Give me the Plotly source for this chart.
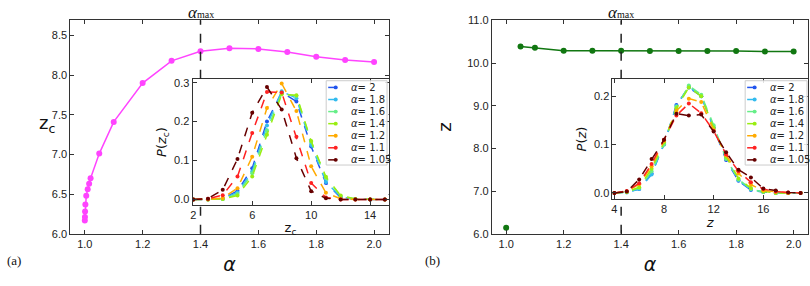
import plotly.graph_objects as go

# ---------------- data ----------------
alpha_a = [1.0001, 1.0005, 1.001, 1.002, 1.005, 1.01, 1.015, 1.02, 1.05, 1.1, 1.2, 1.3, 1.4, 1.5, 1.6, 1.7, 1.8, 1.9, 2.0]
zc_a = [6.166, 6.21, 6.28, 6.37, 6.48, 6.56, 6.63, 6.70, 7.01, 7.41, 7.90, 8.18, 8.30, 8.34, 8.33, 8.29, 8.23, 8.19, 8.165]

alpha_b = [1.0, 1.05, 1.1, 1.2, 1.3, 1.4, 1.5, 1.6, 1.7, 1.8, 1.9, 2.0]
z_b = [6.14, 10.39, 10.36, 10.29, 10.29, 10.29, 10.28, 10.28, 10.28, 10.28, 10.27, 10.27]

alpha_max = 1.4

series_labels = ["2", "1.8", "1.6", "1.4", "1.2", "1.1", "1.05"]
series_colors = ["#2255ee", "#33bbee", "#66ee88", "#99ee11", "#ffaa00", "#ff2222", "#660000"]

zc_grid = [2, 3, 4, 5, 6, 7, 8, 9, 10, 11, 12, 13, 14, 15]
P_zc = [
    [0, 0, 0.002, 0.022, 0.080, 0.200, 0.275, 0.252, 0.136, 0.042, 0.005, 0.001, 0, 0],
    [0, 0, 0.002, 0.018, 0.072, 0.190, 0.278, 0.260, 0.140, 0.045, 0.006, 0.001, 0, 0],
    [0, 0, 0.001, 0.014, 0.067, 0.178, 0.272, 0.266, 0.148, 0.055, 0.009, 0.001, 0, 0],
    [0, 0, 0.001, 0.010, 0.059, 0.166, 0.270, 0.268, 0.150, 0.058, 0.010, 0.001, 0, 0],
    [0, 0, 0.004, 0.029, 0.110, 0.235, 0.298, 0.227, 0.085, 0.017, 0.002, 0, 0, 0],
    [0, 0.002, 0.011, 0.059, 0.171, 0.276, 0.275, 0.161, 0.042, 0.005, 0, 0, 0, 0],
    [0, 0.002, 0.025, 0.104, 0.223, 0.289, 0.231, 0.106, 0.021, 0.003, 0, 0, 0, 0],
]

z_grid = [4, 5, 6, 7, 8, 9, 10, 11, 12, 13, 14, 15, 16, 17, 18, 19]
P_z = [
    [0, 0.002, 0.008, 0.040, 0.100, 0.182, 0.218, 0.200, 0.135, 0.068, 0.025, 0.006, 0.002, 0, 0, 0],
    [0, 0.001, 0.008, 0.038, 0.102, 0.180, 0.220, 0.200, 0.135, 0.072, 0.026, 0.007, 0.002, 0, 0, 0],
    [0, 0.002, 0.010, 0.045, 0.100, 0.178, 0.222, 0.203, 0.140, 0.070, 0.028, 0.008, 0.002, 0, 0, 0],
    [0, 0.002, 0.012, 0.050, 0.105, 0.175, 0.218, 0.200, 0.135, 0.075, 0.030, 0.010, 0.003, 0, 0, 0],
    [0, 0.003, 0.018, 0.055, 0.108, 0.170, 0.195, 0.188, 0.130, 0.078, 0.040, 0.017, 0.005, 0.002, 0, 0],
    [0, 0.004, 0.020, 0.060, 0.110, 0.160, 0.185, 0.165, 0.128, 0.080, 0.045, 0.022, 0.008, 0.003, 0.001, 0],
    [0, 0.003, 0.028, 0.070, 0.110, 0.164, 0.160, 0.162, 0.127, 0.084, 0.048, 0.032, 0.009, 0.005, 0.001, 0],
]

# ---------------- layout helpers ----------------
W, H = 810, 286
def px(x):
    return x / W
def py(y):
    return 1 - y / H

dom_a = dict(x=[px(68.5), px(387.5)], y=[py(237.7), py(15)])
dom_ai = dict(x=[px(191), px(387.5)], y=[py(208), py(76)])
dom_b = dict(x=[px(491), px(808)], y=[py(237.7), py(15)])
dom_bi = dict(x=[px(612), px(808)], y=[py(201.7), py(76)])

AX = "#333333"
TICKFONT = dict(family="Liberation Sans, Arial, sans-serif", size=11, color="#222222")

def axis(**kw):
    d = dict(showline=True, linecolor=AX, linewidth=1, mirror="ticks", ticks="inside",
             ticklen=4, tickcolor=AX, tickwidth=1, showgrid=False, zeroline=False,
             tickfont=TICKFONT)
    d.update(kw)
    return d

fig = go.Figure()

# main (a)
fig.add_trace(go.Scatter(x=alpha_a, y=zc_a, mode="lines+markers", xaxis="x", yaxis="y",
                         line=dict(color="#ff44ff", width=1.5),
                         marker=dict(color="#ff44ff", size=6, symbol="circle"), showlegend=False))
# main (b)
fig.add_trace(go.Scatter(x=alpha_b[:1], y=z_b[:1], mode="markers", xaxis="x3", yaxis="y3",
                         marker=dict(color="#117711", size=6), showlegend=False))
fig.add_trace(go.Scatter(x=alpha_b[1:], y=z_b[1:], mode="lines+markers", xaxis="x3", yaxis="y3",
                         line=dict(color="#117711", width=1.5),
                         marker=dict(color="#117711", size=6), showlegend=False))

# insets
for lab, col, pa, pb in zip(series_labels, series_colors, P_zc, P_z):
    fig.add_trace(go.Scatter(x=zc_grid, y=pa, mode="lines+markers", xaxis="x2", yaxis="y2",
                             line=dict(color=col, width=1.5, dash="dash"),
                             marker=dict(color=col, size=4), showlegend=False))
    fig.add_trace(go.Scatter(x=z_grid, y=pb, mode="lines+markers", xaxis="x4", yaxis="y4",
                             line=dict(color=col, width=1.5, dash="dash"),
                             marker=dict(color=col, size=4), showlegend=False))

fig.update_layout(
    width=W, height=H, margin=dict(l=0, r=0, t=0, b=0),
    paper_bgcolor="white", plot_bgcolor="white", showlegend=False,
    xaxis=axis(domain=dom_a["x"], anchor="y", range=[0.95, 2.05], tickvals=[1.0, 1.2, 1.4, 1.6, 1.8, 2.0],
               tickformat=".1f",
               title=dict(text="<i>α</i>", font=dict(family="DejaVu Sans", size=19, color="#111"), standoff=8)),
    yaxis=axis(domain=dom_a["y"], anchor="x", range=[6.0, 8.69], tickvals=[6.0, 6.5, 7.0, 7.5, 8.0, 8.5],
               tickformat=".1f"),
    xaxis2=axis(domain=dom_ai["x"], anchor="y2", range=[1.95, 15.25], tickvals=[2, 6, 10, 14],
                title=dict(text="z<sub>c</sub>", font=dict(family="DejaVu Sans", size=13, color="#111"), standoff=2)),
    yaxis2=axis(domain=dom_ai["y"], anchor="x2", range=[-0.015, 0.31], tickvals=[0, 0.1, 0.2, 0.3],
                tickformat=".1f",
                title=dict(text="<i>P</i>(<i>z</i><sub>c</sub>)", font=dict(family="DejaVu Sans", size=13, color="#111"), standoff=4)),
    xaxis3=axis(domain=dom_b["x"], anchor="y3", range=[0.95, 2.05], tickvals=[1.0, 1.2, 1.4, 1.6, 1.8, 2.0],
                tickformat=".1f",
                title=dict(text="<i>α</i>", font=dict(family="DejaVu Sans", size=19, color="#111"), standoff=8)),
    yaxis3=axis(domain=dom_b["y"], anchor="x3", range=[6.0, 11.0], tickvals=[6, 7, 8, 9, 10, 11],
                tickformat=".1f",
                title=dict(text="z", font=dict(family="DejaVu Sans", size=18, color="#111"), standoff=10)),
    xaxis4=axis(domain=dom_bi["x"], anchor="y4", range=[3.85, 19.6], tickvals=[4, 8, 12, 16],
                title=dict(text="<i>z</i>", font=dict(family="DejaVu Sans", size=13, color="#111"), standoff=2)),
    yaxis4=axis(domain=dom_bi["y"], anchor="x4", range=[-0.013, 0.236], tickvals=[0, 0.1, 0.2],
                tickformat=".1f",
                title=dict(text="<i>P</i>(<i>z</i>)", font=dict(family="DejaVu Sans", size=13, color="#111"), standoff=4)),
)

shapes = []
annotations = []

# alpha_max dashed lines, hidden behind inset plot areas
for xr, dm, di in [("x", dom_a, dom_ai), ("x3", dom_b, dom_bi)]:
    for y0, y1 in [(dm["y"][0], di["y"][0]), (di["y"][1], dm["y"][1])]:
        shapes.append(dict(type="line", xref=xr, yref="paper", x0=alpha_max, x1=alpha_max, y0=y0, y1=y1,
                           line=dict(color="#222222", width=1.5, dash="dash"), layer="above"))
    annotations.append(dict(xref=xr, yref="paper", x=alpha_max, y=py(7), xanchor="center",
                            yanchor="middle", showarrow=False,
                            text="<i>α</i><span style='font-size:10px'>max</span>",
                            font=dict(family="Liberation Serif, serif", size=17, color="#111")))

# upright y title for panel (a)
annotations.append(dict(xref="paper", yref="paper", x=px(35), y=py(123), showarrow=False,
                        text="z<sub>c</sub>", font=dict(family="DejaVu Sans", size=18, color="#111")))

# panel labels
annotations.append(dict(xref="paper", yref="paper", x=px(3), y=py(276), xanchor="left", showarrow=False,
                        text="(a)", font=dict(family="Liberation Serif, serif", size=13, color="#111")))
annotations.append(dict(xref="paper", yref="paper", x=px(422), y=py(276), xanchor="left", showarrow=False,
                        text="(b)", font=dict(family="Liberation Serif, serif", size=13, color="#111")))

# manual legends inside insets
for bx0, bx1 in [(325, 386), (745, 807)]:
    top, bot = 78, 166
    shapes.append(dict(type="rect", xref="paper", yref="paper", x0=px(bx0), x1=px(bx1), y0=py(bot), y1=py(top),
                       fillcolor="rgba(255,255,255,0.85)", line=dict(color="#cccccc", width=1), layer="above"))
    for i, (lab, col) in enumerate(zip(series_labels, series_colors)):
        yy = 85 + i * 12.6
        lx0, lx1 = bx0 + 2, bx0 + 17
        shapes.append(dict(type="line", xref="paper", yref="paper", x0=px(lx0), x1=px(lx1), y0=py(yy), y1=py(yy),
                           line=dict(color=col, width=1.5, dash="dash"), layer="above"))
        mx = (lx0 + lx1) / 2
        shapes.append(dict(type="circle", xref="paper", yref="paper", x0=px(mx - 2), x1=px(mx + 2),
                           y0=py(yy + 2), y1=py(yy - 2), fillcolor=col, line=dict(color=col, width=0),
                           layer="above"))
        annotations.append(dict(xref="paper", yref="paper", x=px(bx0 + 23), y=py(yy), xanchor="left",
                                yanchor="middle", showarrow=False, text=f"<i>α</i>= {lab}",
                                font=dict(family="DejaVu Sans", size=10, color="#222")))

fig.update_layout(shapes=shapes, annotations=annotations)
fig.write_html("out.html", config={"displayModeBar": False},
               post_script="document.body.style.margin='0';")
